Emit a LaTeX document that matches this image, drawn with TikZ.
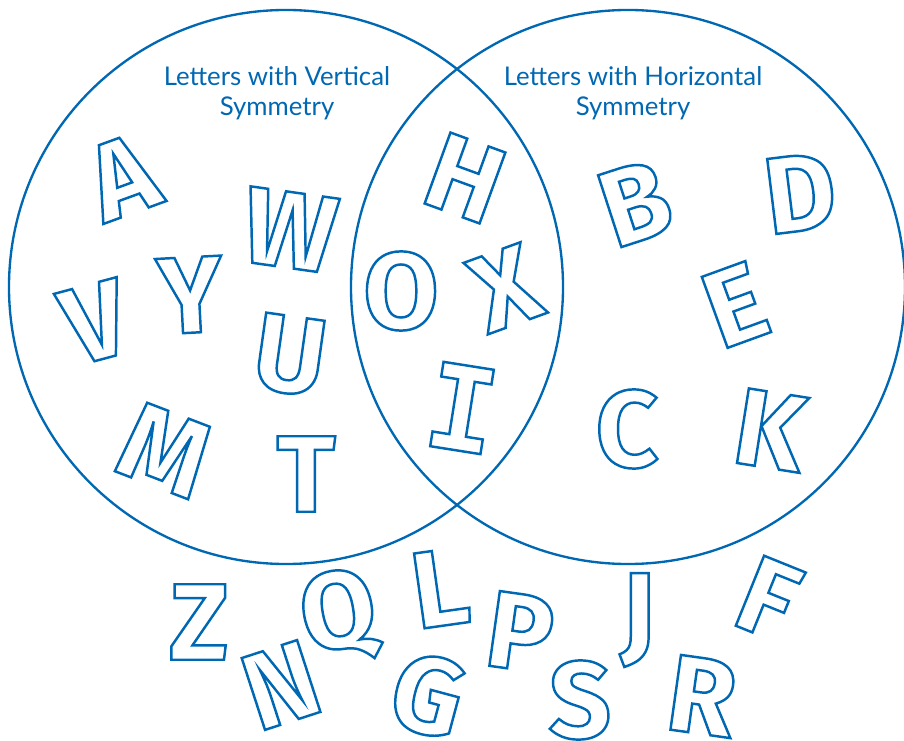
\documentclass[tikz,border=0pt]{standalone}
\usepackage{fontspec}
\setmainfont{Lato}
\newfontfamily\ltrfont{Fira Sans}
\newfontfamily\slabfont{DejaVu Sans Mono}
\usetikzlibrary{positioning}
\definecolor{vennblue}{RGB}{0,104,179}
% outlined (stroked) glyphs
\newcommand{\outl}[1]{\special{pdf:literal direct 1 Tr 2.1 w}#1\special{pdf:literal direct 0 Tr}}

\begin{document}
\begin{tikzpicture}[x=0.03cm, y=-0.03cm,
        circ/.style={draw=vennblue, line width=2pt},
        title/.style={text=vennblue, align=center, font=\fontsize{22}{25.6}\selectfont},
        ltr/.style={text=vennblue, inner sep=0pt, font=\ltrfont\bfseries\fontsize{93}{93}\selectfont}
      ]
        \useasboundingbox (0,0) rectangle (904,741);
        % the two sets
        \node[circ, circle, minimum size=16.62cm] (vert) at (286,287) {};
        \node[circ, circle, minimum size=16.62cm] (horiz) at (628,287) {};
        \node[title] (tv) at (277,93) {Letters with Vertical\\Symmetry};
        \node[title] (th) at (633,93) {Letters with Horizontal\\Symmetry};
        % vertical only
        \node[ltr, rotate=20] (a) at (122,177) {\outl{A}};
        \node[ltr, rotate=-8] (w) at (290,230) {\outl{W}};
        \node[ltr, rotate=3] (y) at (190,295) {\outl{Y}};
        \node[ltr, rotate=15] (v) at (95,322) {\outl{V}};
        \node[ltr, rotate=-8] (u) at (290,355) {\outl{U}};
        \node[ltr, rotate=-21] (m) at (165,450) {\outl{M}};
        \node[ltr] (t) at (306,474) {\outl{T}};
        % both
        \node[ltr, rotate=-20] (h) at (465,178) {\outl{H}};
        \node[ltr] (o) at (401,291) {\outl{O}};
        \node[ltr, rotate=20] (x) at (505,288) {\outl{X}};
        \node[ltr, rotate=-9, font=\slabfont\bfseries\fontsize{100}{100}\selectfont] (i) at (462,408) {\outl{I}};
        % horizontal only
        \node[ltr, rotate=18] (b) at (635,203) {\outl{B}};
        \node[ltr, rotate=7] (d) at (800,193) {\outl{D}};
        \node[ltr, rotate=20] (e) at (735,305) {\outl{E}};
        \node[ltr] (c) at (627,429) {\outl{C}};
        \node[ltr, rotate=-9] (k) at (770,430) {\outl{K}};
        % neither
        \node[ltr] (z) at (199,622) {\outl{Z}};
        \node[ltr, rotate=18] (n) at (281,685) {\outl{N}};
        \node[ltr, rotate=10] (q) at (339,617) {\outl{Q}};
        \node[ltr, rotate=8] (l) at (440,588) {\outl{L}};
        \node[ltr, rotate=-15] (g) at (428,695) {\outl{G}};
        \node[ltr, rotate=-8] (p) at (520,632) {\outl{P}};
        \node[ltr] (s) at (580,700) {\outl{S}};
        \node[ltr] (j) at (638,620) {\outl{J}};
        \node[ltr, rotate=-8] (r) at (702,696) {\outl{R}};
        \node[ltr, rotate=-22] (f) at (768,598) {\outl{F}};
      \end{tikzpicture}
\end{document}
